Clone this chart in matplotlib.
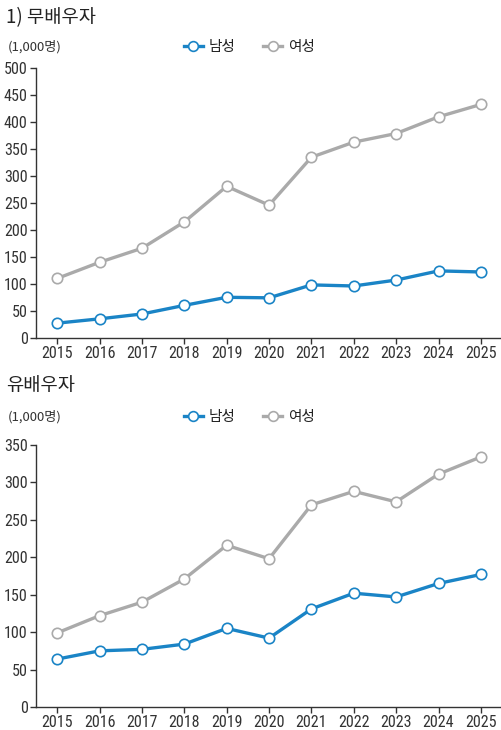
import os
import matplotlib
matplotlib.use("Agg")
import matplotlib.pyplot as plt
from matplotlib import font_manager as fm
from matplotlib.lines import Line2D

years = [2015, 2016, 2017, 2018, 2019, 2020, 2021, 2022, 2023, 2024, 2025]

# 1) 무배우자 (unit: 1,000명)
single_male = [27, 35, 44, 60, 75, 74, 98, 96, 107, 124, 122]
single_female = [110, 140, 166, 215, 281, 246, 335, 363, 379, 410, 433]

# 유배우자 (unit: 1,000명)
married_male = [64, 75, 77, 84, 105, 92, 131, 152, 147, 165, 177]
married_female = [99, 122, 140, 171, 216, 198, 270, 288, 274, 311, 334]

titles = ["1) 무배우자", "유배우자"]
unit_label = "(1,000명)"
series_names = ["남성", "여성"]

# pick a condensed font for numbers if available
num_fp = None
num_size = 11.5
pref = ["RobotoCondensed-Regular", "RobotoCondensed", "DejaVuSansCondensed.ttf",
        "LiberationSansNarrow-Regular", "OpenSansCondensed"]
files = [f.fname for f in fm.fontManager.ttflist]
for p in pref:
    hit = [fn for fn in files if p in os.path.basename(fn)
           and 'Bold' not in os.path.basename(fn) and 'Oblique' not in os.path.basename(fn)
           and 'Italic' not in os.path.basename(fn)]
    if hit:
        num_fp = fm.FontProperties(fname=hit[0])
        break
if num_fp is None:
    names = {f.name for f in fm.fontManager.ttflist}
    num_fp = fm.FontProperties(family="Roboto" if "Roboto" in names else "DejaVu Sans")
    num_size = 10.5
num_fp.set_size(num_size)

kr = "Noto Sans CJK KR"
plt.rcParams['font.family'] = [kr, 'DejaVu Sans']

BLUE = "#1a84c6"
GRAY = "#aaaaaa"
AX = "#333333"

fig = plt.figure(figsize=(5.01, 7.30), dpi=100)

panels = [
    (single_male, single_female, 500, [0.0719, 0.5374, 0.926, 0.369], 730 - 18, 730 - 47),
    (married_male, married_female, 350, [0.0719, 0.0315, 0.926, 0.359], 730 - 385, 730 - 417),
]

for i, (m, f, ymax, rect, ty, uy) in enumerate(panels):
    ax = fig.add_axes(rect)
    ax.plot(years, f, color=GRAY, lw=2.4, marker='o', ms=7.5, mfc='white',
            mec=GRAY, mew=1.2, zorder=3, clip_on=False)
    ax.plot(years, m, color=BLUE, lw=2.4, marker='o', ms=7.5, mfc='white',
            mec=BLUE, mew=1.2, zorder=4, clip_on=False)
    ax.set_xlim(2014.5, 2025.45)
    ax.set_ylim(0, ymax)
    ax.set_xticks(years)
    ax.set_yticks(range(0, ymax + 1, 50))
    ax.set_xticklabels([str(y) for y in years], fontproperties=num_fp, color=AX)
    ax.set_yticklabels([str(v) for v in range(0, ymax + 1, 50)], fontproperties=num_fp, color=AX)
    for s in ['top', 'right']:
        ax.spines[s].set_visible(False)
    for s in ['left', 'bottom']:
        ax.spines[s].set_color(AX)
        ax.spines[s].set_linewidth(1.0)
    ax.tick_params(axis='both', direction='out', length=4, width=1.0, color=AX)
    ax.tick_params(axis='x', pad=2)
    ax.tick_params(axis='y', pad=2)
    ax.set_facecolor('none')

    fig.text(6 / 501, ty / 730, titles[i], fontsize=13.5, color="#222222", va='center', ha='left')
    fig.text(8 / 501, uy / 730, unit_label, fontsize=9.5, color="#333333", va='center', ha='left')

    handles = [
        Line2D([], [], color=BLUE, lw=2.4, marker='o', ms=7, mfc='white', mec=BLUE, mew=1.2),
        Line2D([], [], color=GRAY, lw=2.4, marker='o', ms=7, mfc='white', mec=GRAY, mew=1.2),
    ]
    leg = fig.legend(handles, series_names, loc='center left',
                     bbox_to_anchor=(184 / 501, uy / 730), ncol=2, frameon=False,
                     fontsize=10.5, handlelength=1.3, handletextpad=0.4,
                     columnspacing=1.9, borderaxespad=0, borderpad=0)
    for t in leg.get_texts():
        t.set_color("#222222")

fig.savefig("out.png", dpi=100)
